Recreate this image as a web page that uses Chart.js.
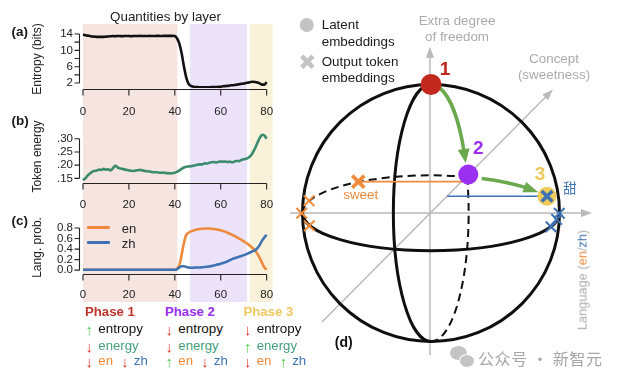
<!DOCTYPE html>
<html><head><meta charset="utf-8">
<script src="https://cdn.jsdelivr.net/npm/chart.js@4.4.1/dist/chart.umd.min.js"></script>
<style>
html,body{margin:0;padding:0;background:#fff;}
#wrap{position:relative;width:623px;height:383px;overflow:hidden;background:#fff;font-family:"Liberation Sans",Arial,Helvetica,sans-serif;color:#1a1a1a;}
#wrap canvas{position:absolute;}
.t{position:absolute;white-space:nowrap;line-height:1;}
</style></head>
<body><div id="wrap">
<canvas id="ca" width="290" height="118" style="left:0;top:0;"></canvas>
<canvas id="cb" width="290" height="92" style="left:0;top:118px;"></canvas>
<canvas id="cc" width="290" height="92" style="left:0;top:210px;"></canvas>
<canvas id="cd" width="333" height="383" style="left:290px;top:0;"></canvas>
</div>
<script>
// ---------------- DATA ----------------
const entropyBits = [13.85,13.7,13.6,13.5,13.4,13.35,13.3,13.3,13.3,13.3,
 13.35,13.4,13.45,13.5,13.45,13.5,13.5,13.45,13.5,13.5,
 13.5,13.45,13.5,13.5,13.5,13.55,13.5,13.5,13.5,13.55,
 13.5,13.5,13.55,13.55,13.5,13.55,13.55,13.55,13.55,13.55,
 13.5,12.9,11.6,9.2,6.0,3.3,1.8,1.3,1.1,1.0,
 1.0,0.95,0.95,0.95,0.95,0.95,1.0,1.0,1.0,1.1,
 1.1,1.2,1.25,1.3,1.4,1.45,1.5,1.6,1.7,1.8,
 1.85,2.0,2.1,2.25,2.3,2.25,2.1,1.9,1.6,1.6,2.2];
const tokenEnergy = [0.143,0.150,0.160,0.168,0.175,0.178,0.180,0.183,0.182,0.186,
 0.183,0.184,0.180,0.188,0.198,0.192,0.188,0.186,0.184,0.182,
 0.180,0.179,0.178,0.180,0.181,0.182,0.180,0.178,0.177,0.176,
 0.174,0.173,0.173,0.172,0.171,0.172,0.170,0.170,0.169,0.170,
 0.171,0.175,0.180,0.186,0.191,0.194,0.195,0.196,0.198,0.200,
 0.202,0.203,0.203,0.207,0.206,0.209,0.211,0.212,0.210,0.213,
 0.214,0.213,0.214,0.212,0.213,0.211,0.214,0.216,0.215,0.220,
 0.222,0.224,0.228,0.235,0.248,0.265,0.285,0.303,0.315,0.312,0.300];
const probEn = [0.005,0.005,0.005,0.005,0.005,0.005,0.005,0.005,0.005,0.005,
 0.005,0.005,0.005,0.005,0.005,0.005,0.005,0.005,0.005,0.005,
 0.005,0.005,0.005,0.005,0.005,0.005,0.005,0.005,0.005,0.005,
 0.005,0.005,0.005,0.005,0.005,0.005,0.005,0.005,0.005,0.005,
 0.005,0.03,0.10,0.30,0.52,0.67,0.71,0.735,0.75,0.765,
 0.775,0.78,0.785,0.79,0.79,0.79,0.785,0.78,0.775,0.765,
 0.755,0.745,0.73,0.71,0.69,0.67,0.65,0.625,0.60,0.575,
 0.545,0.52,0.49,0.455,0.415,0.37,0.31,0.23,0.14,0.05,0.01];
const probZh = [0.005,0.005,0.005,0.005,0.005,0.005,0.005,0.005,0.005,0.005,
 0.005,0.005,0.005,0.005,0.005,0.005,0.005,0.005,0.005,0.005,
 0.005,0.005,0.005,0.005,0.005,0.005,0.005,0.005,0.005,0.005,
 0.005,0.005,0.005,0.005,0.005,0.005,0.005,0.005,0.005,0.005,
 0.005,0.02,0.05,0.075,0.075,0.06,0.05,0.045,0.045,0.05,
 0.05,0.05,0.055,0.06,0.065,0.07,0.08,0.09,0.10,0.11,
 0.12,0.135,0.15,0.17,0.19,0.21,0.225,0.24,0.255,0.27,
 0.285,0.30,0.32,0.34,0.36,0.38,0.42,0.48,0.56,0.62,0.67];
const layers = entropyBits.map((_, i) => i);
const layerTicks = [0, 20, 40, 60, 80];
const entropyTicks = [14, 10, 6, 2];
const entropyMarks = [14, 12, 10, 8, 6, 4, 2];
const energyTicks = [0.30, 0.25, 0.20, 0.15];
const probTicks = [0.8, 0.6, 0.4, 0.2, 0.0];
const phaseStart = [0, 46.6, 72.7];
const phaseEnd = [41.1, 71.4, 82.6];
const phaseFill = ['#f6e4e1', '#ece3fb', '#f9f1da'];

// sphere diagram (unit sphere coordinates)
const latentX = [0.0, 0.29, 0.903];
const latentY = [1.0, 0.30, 0.13];
const latentColor = ['#c2281d', '#9b30f0', '#eecb5c'];
const enTokX = [-0.566, -0.949, -1.006, -0.947];
const enTokY = [0.244, 0.096, -0.002, -0.099];
const zhTokX = [0.903, 0.998, 0.978, 0.934];
const zhTokY = [0.13, -0.002, -0.049, -0.107];

const C_EN = '#ee8a3c', C_ZH = '#3f72b2', C_EG = '#3b8c6c';

Chart.defaults.font.family = '"Liberation Sans", Arial, Helvetica, sans-serif';
Chart.defaults.color = '#1e1e1e';

// ---------------- LEFT PANELS ----------------
const panelPlugin = {
  id: 'panelDeco',
  beforeDraw(chart, args, o) {
    const {ctx} = chart, xs = chart.scales.x;
    ctx.save();
    phaseStart.forEach((s, i) => {
      const x0 = xs.getPixelForValue(s), x1 = xs.getPixelForValue(phaseEnd[i]);
      ctx.fillStyle = phaseFill[i];
      ctx.fillRect(x0, o.shadeTop, x1 - x0, chart.height - o.shadeTop);
    });
    ctx.restore();
  },
  afterDraw(chart, args, o) {
    const {ctx, chartArea: ca} = chart, xs = chart.scales.x, ys = chart.scales.y;
    ctx.save();
    ctx.strokeStyle = '#222'; ctx.lineWidth = 1.1;
    const ax = Math.round(ca.left) - 0.5;
    const yt = ys.getPixelForValue(Math.max(...o.marks)), yb = ys.getPixelForValue(Math.min(...o.marks));
    ctx.beginPath();
    ctx.moveTo(ax, yt); ctx.lineTo(ax, yb);
    o.marks.forEach(v => { const p = ys.getPixelForValue(v); ctx.moveTo(ax - 5, p); ctx.lineTo(ax, p); });
    const by = Math.round(ca.bottom + o.gap) + 0.5;
    const x0 = xs.getPixelForValue(layerTicks[0]), x1 = xs.getPixelForValue(layerTicks[layerTicks.length - 1]);
    ctx.moveTo(x0, by); ctx.lineTo(x1, by);
    layerTicks.forEach(v => { const p = xs.getPixelForValue(v); ctx.moveTo(p, by); ctx.lineTo(p, by + 6); });
    ctx.stroke();
    ctx.restore();
  }
};

function makePanel(id, opts) {
  return new Chart(document.getElementById(id), {
    type: 'line',
    data: { datasets: opts.series.map(s => ({
      data: layers.map((l, i) => ({x: l, y: s.values[i]})),
      borderColor: s.color, borderWidth: 2.6, pointRadius: 0,
      cubicInterpolationMode: 'monotone', borderJoinStyle: 'round', fill: false
    })) },
    options: {
      responsive: false, animation: false, events: [], devicePixelRatio: 1,
      layout: { autoPadding: false, padding: { top: opts.top, right: 13, left: 0, bottom: 0 } },
      plugins: { legend: { display: false }, tooltip: { enabled: false },
        panelDeco: { shadeTop: opts.shadeTop, marks: opts.marks, gap: opts.gap } },
      scales: {
        x: { type: 'linear', min: -1.3, max: 83,
          grid: { display: false, drawTicks: false }, border: { display: false },
          afterBuildTicks: s => { s.ticks = layerTicks.map(v => ({value: v})); },
          afterFit: s => { s.height = opts.xh; },
          ticks: { padding: 16.5, autoSkip: false, maxRotation: 0, font: { size: 11.5 }, color: '#222', callback: v => String(v) } },
        y: { type: 'linear', min: opts.min, max: opts.max,
          grid: { display: false, drawTicks: false }, border: { display: false },
          afterBuildTicks: s => { s.ticks = opts.ticks.map(v => ({value: v})); },
          afterFit: s => { s.width = 80; },
          title: { display: true, text: opts.title, font: { size: 12 }, color: '#222', padding: { top: 30, bottom: 0 } },
          ticks: { padding: 7, autoSkip: false, font: { size: 11.5 }, color: '#222', callback: opts.fmt } }
      }
    },
    plugins: [panelPlugin]
  });
}

makePanel('ca', { top: 30, xh: 30, shadeTop: 24, gap: 1, min: 0.78, max: 14.98,
  ticks: entropyTicks, marks: entropyMarks, title: 'Entropy (bits)', fmt: v => String(v),
  series: [{ values: entropyBits, color: '#111' }] });
makePanel('cb', { top: 6, xh: 29, shadeTop: 0, gap: 2, min: 0.140, max: 0.326,
  ticks: energyTicks, marks: energyTicks, title: 'Token energy', fmt: v => v.toFixed(2).replace(/^0/, ''),
  series: [{ values: tokenEnergy, color: C_EG }] });
makePanel('cc', { top: 4, xh: 31, shadeTop: 0, gap: 3, min: -0.016, max: 0.878,
  ticks: probTicks, marks: probTicks, title: 'Lang. prob.', fmt: v => v.toFixed(1),
  series: [{ values: probZh, color: C_ZH }, { values: probEn, color: C_EN }] });

// ---------------- SPHERE ----------------
const K = 0.293;           // ellipse flattening of equator / meridian
const HIT = 0.28;          // where back arcs meet latent 2
const axisFrom = [[-0.008, -1.105], [-0.848, -0.848], [-1.097, 0]];
const axisTo = [[-0.008, 1.294], [0.949, 0.961], [1.253, 0]];

function headAt(ctx, tx, ty, dx, dy, L, W) {
  const n = Math.hypot(dx, dy); dx /= n; dy /= n;
  const bx = tx - dx * L, byy = ty - dy * L;
  ctx.beginPath(); ctx.moveTo(tx, ty);
  ctx.lineTo(bx - dy * W / 2, byy + dx * W / 2);
  ctx.lineTo(bx + dy * W / 2, byy - dx * W / 2);
  ctx.closePath(); ctx.fill();
}
function arcArrow(ctx, cx, cy, rx, ry, t0, t1, L, W) {
  const sp = Math.hypot(rx * Math.sin(t1), ry * Math.cos(t1));
  const tm = t1 - 0.5 * L / sp;
  ctx.beginPath(); ctx.ellipse(cx, cy, rx, ry, 0, t0, t1 - 0.75 * L / sp); ctx.stroke();
  headAt(ctx, cx + rx * Math.cos(t1), cy + ry * Math.sin(t1), -rx * Math.sin(tm), ry * Math.cos(tm), L, W);
}

const spherePlugin = {
  id: 'sphereDeco',
  beforeDatasetsDraw(chart) {
    const {ctx} = chart, xs = chart.scales.x, ys = chart.scales.y;
    const X = v => xs.getPixelForValue(v), Y = v => ys.getPixelForValue(v);
    const cx = X(0), cy = Y(0), R = X(1) - X(0);
    ctx.save();
    // gray axes
    ctx.strokeStyle = '#b9b9b9'; ctx.fillStyle = '#b9b9b9'; ctx.lineWidth = 1.5;
    axisFrom.forEach((f, i) => {
      const x0 = X(f[0]), y0 = Y(f[1]), x1 = X(axisTo[i][0]), y1 = Y(axisTo[i][1]);
      const d = Math.hypot(x1 - x0, y1 - y0), ux = (x1 - x0) / d, uy = (y1 - y0) / d;
      ctx.beginPath(); ctx.moveTo(x0, y0); ctx.lineTo(x1 - ux * 8, y1 - uy * 8); ctx.stroke();
      headAt(ctx, x1, y1, ux, uy, 11, 8);
    });
    // sphere
    ctx.strokeStyle = '#0f0f0f'; ctx.lineWidth = 3;
    ctx.beginPath(); ctx.arc(cx, cy, R, 0, 2 * Math.PI); ctx.stroke();
    ctx.beginPath(); ctx.ellipse(cx, cy, R, R * K, 0, 0, Math.PI); ctx.stroke();
    ctx.beginPath(); ctx.ellipse(cx, cy, R * K, R, 0, Math.PI / 2, 1.5 * Math.PI); ctx.stroke();
    ctx.setLineDash([8, 5]); ctx.lineWidth = 2;
    ctx.beginPath(); ctx.ellipse(cx, cy, R, R * K, 0, Math.PI, 2 * Math.PI - Math.acos(HIT)); ctx.stroke();
    ctx.beginPath(); ctx.ellipse(cx, cy, R * K, R, 0, -Math.asin(HIT), Math.PI / 2); ctx.stroke();
    ctx.setLineDash([]);
    // projections
    ctx.lineWidth = 1.6;
    ctx.strokeStyle = C_EN;
    ctx.beginPath(); ctx.moveTo(X(enTokX[0]), Y(enTokY[0])); ctx.lineTo(X(0.241), Y(enTokY[0])); ctx.stroke();
    ctx.strokeStyle = C_ZH;
    ctx.beginPath(); ctx.moveTo(X(0.125), Y(zhTokY[0])); ctx.lineTo(X(zhTokX[0]), Y(zhTokY[0])); ctx.stroke();
    // green trajectory
    ctx.strokeStyle = '#6aaa4c'; ctx.fillStyle = '#6aaa4c'; ctx.lineWidth = 3.5;
    arcArrow(ctx, cx, cy, R * K, R, -1.33, -0.40, 14, 12);
    arcArrow(ctx, cx, cy, R, R * K, -1.165, -0.582, 15, 11);
    ctx.restore();
  }
};

new Chart(document.getElementById('cd'), {
  type: 'scatter',
  data: { datasets: [
    { data: zhTokX.map((x, i) => ({x, y: zhTokY[i]})), pointStyle: 'crossRot',
      pointRadius: [7.5, 7.5, 7.5, 7.5], pointBorderWidth: [3.6, 2, 2, 2], borderColor: C_ZH, backgroundColor: C_ZH },
    { data: enTokX.map((x, i) => ({x, y: enTokY[i]})), pointStyle: 'crossRot',
      pointRadius: [8.5, 7.5, 7.5, 7.5], pointBorderWidth: [3.6, 2, 2, 2], borderColor: C_EN, backgroundColor: C_EN },
    { data: latentX.map((x, i) => ({x, y: latentY[i]})), pointStyle: 'circle',
      pointRadius: [10.5, 10, 9.5], pointBorderWidth: 0, backgroundColor: latentColor, borderColor: latentColor },
    { data: [{x: -0.967, y: 1.463}], pointStyle: 'circle', pointRadius: 7, pointBorderWidth: 0, backgroundColor: '#c3c3c3' },
    { data: [{x: -0.962, y: 1.177}], pointStyle: 'crossRot', pointRadius: 8, pointBorderWidth: 4.5, borderColor: '#c3c3c3' }
  ] },
  options: {
    responsive: false, animation: false, events: [], devicePixelRatio: 1,
    layout: { autoPadding: false, padding: 0 },
    plugins: { legend: { display: false }, tooltip: { enabled: false } },
    elements: { point: { hoverRadius: 0 } },
    datasets: { scatter: { clip: false, showLine: false } },
    scales: {
      x: { type: 'linear', min: -141 / 128.5, max: 192 / 128.5, display: false },
      y: { type: 'linear', min: -170 / 128.5, max: 213 / 128.5, display: false }
    }
  },
  plugins: [spherePlugin]
});

// ---------------- TEXT ----------------
const wrap = document.getElementById('wrap');
function T(x, y, html, css, center) {
  const d = document.createElement('div'); d.className = 't'; d.innerHTML = html;
  d.style.cssText += `left:${x}px;top:${y}px;transform:${center ? 'translate(-50%,-50%)' : 'translateY(-50%)'};` + (css || '');
  wrap.appendChild(d); return d;
}
T(165.5, 17.3, 'Quantities by layer', 'font-size:13.4px;color:#222;', true);
T(11.5, 31.5, '(a)', 'font-size:13.5px;font-weight:bold;');
T(11.5, 121, '(b)', 'font-size:13.5px;font-weight:bold;');
T(11.5, 220.5, '(c)', 'font-size:13.5px;font-weight:bold;');
// legend of (c)
[[227.7, C_EN, 'en'], [242.7, C_ZH, 'zh']].forEach(([y, c, s]) => {
  const l = document.createElement('div');
  l.style.cssText = `position:absolute;left:87px;top:${y - 1.5}px;width:23px;height:3px;background:${c};border-radius:1px;`;
  wrap.appendChild(l);
  T(121.7, y, s, 'font-size:13px;color:#222;');
});
// phases
const phaseNames = ['Phase 1', 'Phase 2', 'Phase 3'];
const phaseColor = ['#c0352b', '#9b2ff0', '#f0c860'];
const phaseCols = [85, 165, 243.4];
const entropyTrend = ['up', 'down', 'down'];
const energyTrend = ['down', 'down', 'up'];
const enTrend = ['down', 'up', 'down'];
const zhTrend = ['down', 'down', 'up'];
const arr = d => d === 'up' ? '<span style="color:#55cf55">↑</span>' : '<span style="color:#e2382c">↓</span>';
phaseCols.forEach((c, i) => {
  T(c, 312.3, phaseNames[i], `font-size:13.2px;font-weight:bold;color:${phaseColor[i]};`);
  T(c + 4.3, 329, arr(entropyTrend[i]), 'font-size:15px;', true);
  T(c + 13.3, 329, 'entropy', 'font-size:13.4px;color:#111;');
  T(c + 4.3, 345.7, arr(energyTrend[i]), 'font-size:15px;', true);
  T(c + 13.3, 345.7, 'energy', 'font-size:13.2px;color:#45a07a;');
  T(c + 4.3, 361, arr(enTrend[i]), 'font-size:15px;', true);
  T(c + 13.3, 361, 'en', `font-size:13.2px;color:${C_EN};`);
  T(c + 40, 361, arr(zhTrend[i]), 'font-size:15px;', true);
  T(c + 48.8, 361, 'zh', `font-size:13.2px;color:${C_ZH};`);
});
// sphere texts
T(321.7, 25, 'Latent', 'font-size:13.4px;color:#1a1a1a;');
T(321.7, 41.7, 'embeddings', 'font-size:13.4px;color:#1a1a1a;');
T(321.7, 61.7, 'Output token', 'font-size:13.4px;color:#1a1a1a;');
T(321.7, 78.3, 'embeddings', 'font-size:13.4px;color:#1a1a1a;');
T(457, 20.7, 'Extra degree', 'font-size:13.4px;color:#ababab;', true);
T(457, 36.5, 'of freedom', 'font-size:13.4px;color:#ababab;', true);
T(554, 58.7, 'Concept', 'font-size:13.4px;color:#ababab;', true);
T(554, 75, '(sweetness)', 'font-size:13.4px;color:#ababab;', true);
T(445, 68.3, '1', 'font-size:19px;font-weight:bold;color:#c2281d;', true);
T(478.3, 146.7, '2', 'font-size:19px;font-weight:bold;color:#9b30f0;', true);
T(540, 173.3, '3', 'font-size:19px;font-weight:bold;color:#eec859;', true);
T(570, 188.3, '甜', `font-size:13.4px;color:${C_ZH};font-family:"Noto Sans CJK SC",sans-serif;`, true);
T(360.7, 195, 'sweet', `font-size:13.4px;color:${C_EN};`, true);
T(343.7, 341.5, '(d)', 'font-size:14px;font-weight:bold;color:#111;', true);
const lang = T(582.7, 280, `Language (<span style="color:${C_EN}">en</span>/<span style="color:${C_ZH}">zh</span>)`, 'font-size:12.8px;color:#ababab;', true);
lang.style.transform = 'translate(-50%,-50%) rotate(-90deg)';
// watermark
const b1 = document.createElement('div');
b1.style.cssText = 'position:absolute;left:450px;top:346px;width:17px;height:14px;border-radius:50%;background:#c4c4c4;';
wrap.appendChild(b1);
const b2 = document.createElement('div');
b2.style.cssText = 'position:absolute;left:459px;top:354px;width:14px;height:12px;border-radius:50%;background:#c4c4c4;border:1.5px solid #fff;';
wrap.appendChild(b2);
T(478, 357.7, '公众号 · 新智元', 'font-size:16px;letter-spacing:0.6px;color:#a6a6a6;font-family:"Noto Sans CJK SC",sans-serif;');
</script></body></html>
